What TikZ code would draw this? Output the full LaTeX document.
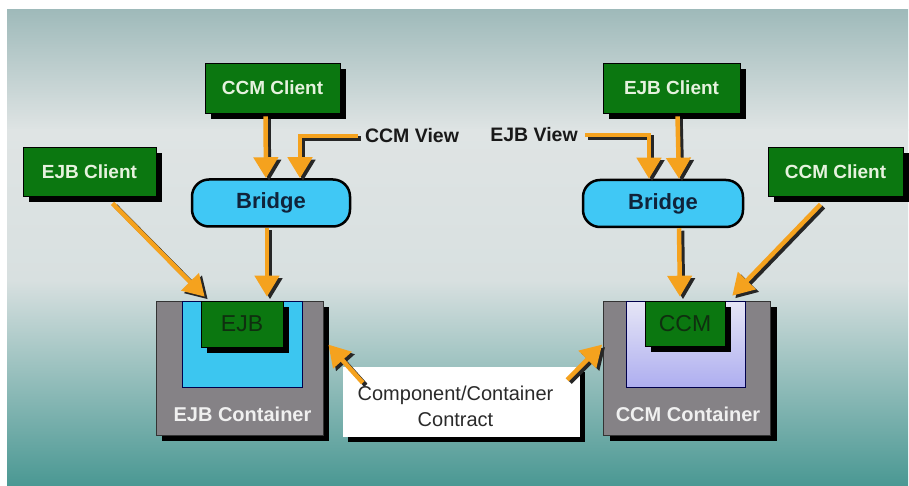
\documentclass[tikz,border=0pt]{standalone}
\usepackage{fontspec}
\setmainfont{Liberation Sans}
\usetikzlibrary{arrows.meta}

\definecolor{bgtop}{HTML}{9FBABA}
\definecolor{bglight}{HTML}{DFE4E4}
\definecolor{bgmid}{HTML}{D8E0E0}
\definecolor{bgbot}{HTML}{4A9893}
\definecolor{boxgreen}{HTML}{0B7710}
\definecolor{clienttext}{HTML}{E6F2DE}
\definecolor{flowor}{HTML}{F5A21E}
\definecolor{bridgeblue}{HTML}{40C8F5}
\definecolor{bridgetext}{HTML}{10233A}
\definecolor{innerblue}{HTML}{3CC6F0}
\definecolor{lavtop}{HTML}{E6E6F6}
\definecolor{lavbot}{HTML}{AEAEF0}
\definecolor{contgray}{HTML}{858286}
\definecolor{beantext}{HTML}{0F2F0F}
\definecolor{contracttext}{HTML}{2A2A2A}

% an orange flow arrow with a dark drop shadow along its lower right side
\newcommand\flowline[1]{%
  \draw[flowshade] #1;
  \draw[flow] #1;}

\begin{document}
\begin{tikzpicture}[x=1pt,y=-1pt,
  shadowed/.style={preaction={fill=black, transform canvas={shift={(#1,-#1)}}}},
  client/.style={draw=black, line width=0.8pt, fill=boxgreen, text=clienttext,
    font=\bfseries\fontsize{19}{22}\selectfont, inner sep=0pt, shadowed=6pt},
  bridge/.style={draw=black, line width=2.5pt, fill=bridgeblue, text=bridgetext,
    rounded corners=17pt, font=\bfseries\fontsize{22}{26}\selectfont,
    minimum height=47pt, inner sep=0pt},
  viewlbl/.style={text=black!90, font=\bfseries\fontsize{19.5}{22}\selectfont},
  container/.style={draw=black!80, line width=0.8pt, fill=contgray, inner sep=0pt,
    minimum width=167pt, minimum height=134pt, shadowed=6pt},
  inner/.style={draw=black!70!blue, line width=0.8pt, inner sep=0pt,
    minimum height=86pt},
  bean/.style={draw=black, line width=0.6pt, fill=boxgreen, text=beantext,
    font=\fontsize{23}{26}\selectfont, inner sep=0pt, minimum height=46pt,
    shadowed=5.5pt},
  contlbl/.style={text=white!94!black, font=\bfseries\fontsize{20}{24}\selectfont},
  flowtip/.style={-{Triangle[length=21pt,width=24pt]}},
  flow/.style={draw=flowor, line width=4.5pt, flowtip},
  flowshade/.style={draw=black!85, line width=4.5pt, flowtip,
    transform canvas={shift={(3pt,-2.5pt)}}}
]
\useasboundingbox (0,0) rectangle (909,486);
\fill[white] (0,0) rectangle (909,486);

% backdrop: grey-teal top, pale middle band, teal bottom
\shade[top color=bgtop, bottom color=bglight] (7,10) rectangle (908,131);
\shade[top color=bglight, bottom color=bgmid] (7,130) rectangle (908,281);
\shade[top color=bgmid, bottom color=bgbot] (7,280) rectangle (908,486);

% client boxes
\node[client, minimum width=135pt, minimum height=50pt] (ccmC) at (272.5,88) {CCM Client};
\node[client, minimum width=137pt, minimum height=50pt] (ejbCR) at (671.5,88) {EJB Client};
\node[client, minimum width=133pt, minimum height=49pt] (ejbCL) at (89.5,171.5) {EJB Client};
\node[client, minimum width=135pt, minimum height=49pt] (ccmCR) at (835.5,171.5) {CCM Client};

% bridges
\node[bridge, minimum width=158pt] (bridgeL) at (271,203) {Bridge};
\node[bridge, minimum width=160pt] (bridgeR) at (663,203.5) {Bridge};

% view labels
\node[viewlbl] (ccmView) at (412,136) {CCM View};
\node[viewlbl] (ejbView) at (534,135) {EJB View};

% EJB container
\node[container] (ejbCont) at (239.5,368) {};
\node[inner, fill=innerblue, minimum width=120pt] (ejbInner) at (242,344) {};
\node[bean, minimum width=82pt] (ejbBox) at (242,324) {EJB};
\node[contlbl] (ejbContLbl) at ([xshift=3pt,yshift=21pt]ejbCont.south) {EJB Container};

% CCM container
\node[container] (ccmCont) at (687,368) {};
\node[inner, top color=lavtop, bottom color=lavbot, minimum width=119pt] (ccmInner) at (685.5,344) {};
\node[bean, minimum width=80pt, minimum height=45pt] (ccmBox) at (685,323.5) {CCM};
\node[contlbl] (ccmContLbl) at ([xshift=1pt,yshift=21pt]ccmCont.south) {CCM Container};

% contract
\node[fill=white, inner sep=0pt, minimum width=237pt, minimum height=70pt, shadowed=5pt]
  (contract) at (461.5,402) {};
\node[text=contracttext, align=center, font=\fontsize{20}{26}\selectfont]
  (contractText) at ([xshift=-6pt,yshift=-4pt]contract.center) {Component/Container\\Contract};

% flows into the bridges
\flowline{([xshift=-7pt,yshift=-3pt]ccmC.south) -- ([xshift=-5pt]bridgeL.north)}
\flowline{([xshift=-4pt]ccmView.west) -| ([xshift=29pt]bridgeL.north)}
\flowline{([xshift=6pt,yshift=-3pt]ejbCR.south) -- ([xshift=16pt]bridgeR.north)}
\flowline{([xshift=4pt]ejbView.east) -| ([xshift=-14pt]bridgeR.north)}

% flows into the components
\flowline{([xshift=23pt,yshift=-7pt]ejbCL.south) -- ([xshift=4pt,yshift=4pt]ejbBox.north west)}
\flowline{([xshift=-4pt]bridgeL.south) -- ([xshift=25pt,yshift=4pt]ejbBox.north)}
\flowline{([xshift=16pt]bridgeR.south) -- ([xshift=-5pt,yshift=4pt]ccmBox.north)}
\flowline{([xshift=-15pt,yshift=-8pt]ccmCR.south) -- ([xshift=7pt,yshift=5pt]ccmBox.north east)}

% contract to both containers
\flowline{([xshift=20pt,yshift=-16pt]contract.north west) -- ([xshift=5pt,yshift=-44pt]ejbCont.north east)}
\flowline{([xshift=-13pt,yshift=-13pt]contract.north east) -- ([xshift=-1pt,yshift=-44pt]ccmCont.north west)}
\end{tikzpicture}
\end{document}
